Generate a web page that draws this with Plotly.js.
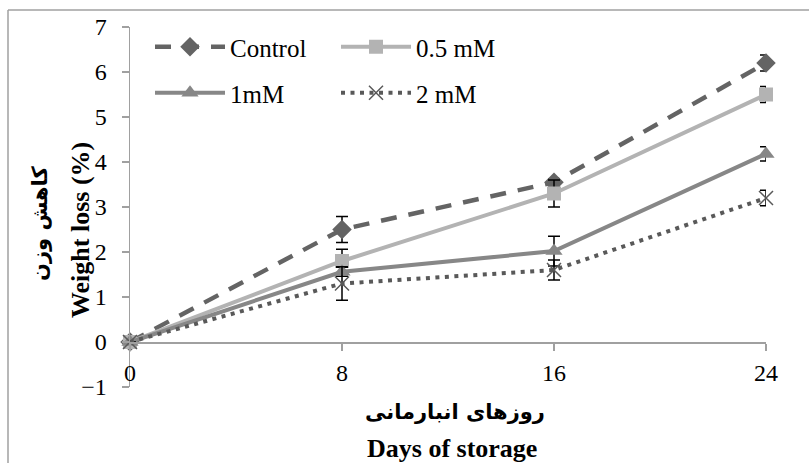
<!DOCTYPE html>
<html>
<head>
<meta charset="utf-8">
<script src="https://cdn.plot.ly/plotly-3.0.1.min.js"></script>
<style>html,body{margin:0;padding:0;background:#fff;}#chart{width:809px;height:463px;}</style>
</head>
<body>
<div id="chart"></div>
<script>
// Data
const days = [0, 8, 16, 24];
const seriesNames = ["Control", "0.5 mM", "1mM", "2 mM"];
const control = [0, 2.5, 3.55, 6.2];
const controlErr = [0, 0.29, 0.08, 0.18];
const mM05 = [0, 1.8, 3.3, 5.5];
const mM05Err = [0, 0.26, 0.3, 0.18];
const mM1 = [0, 1.56, 2.02, 4.18];
const mM1Err = [0, 0.1, 0.33, 0.16];
const mM2 = [0, 1.3, 1.6, 3.2];
const mM2Err = [0, 0.37, 0.22, 0.17];
const xTickVals = [0, 8, 16, 24];
const xTickText = ["0", "8", "16", "24"];

const serif = "'Liberation Serif', 'Times New Roman', serif";
const persian = "'DejaVu Sans', sans-serif";

function err(arr) {
  return {type: "data", array: arr, visible: true, color: "#000", thickness: 1.5, width: 6};
}

const traces = [
  {x: days, y: control, name: seriesNames[0], mode: "lines+markers", legend: "legend",
   line: {color: "#646464", width: 4.5, dash: "16px,12px"},
   marker: {symbol: "diamond", size: 15, color: "#646464"}, error_y: err(controlErr), cliponaxis: false},
  {x: days, y: mM05, name: seriesNames[1], mode: "lines+markers", legend: "legend",
   line: {color: "#b3b3b3", width: 4},
   marker: {symbol: "square", size: 14, color: "#b3b3b3"}, error_y: err(mM05Err), cliponaxis: false},
  {x: days, y: mM1, name: seriesNames[2], mode: "lines+markers", legend: "legend2",
   line: {color: "#878787", width: 4},
   marker: {symbol: "triangle-up", size: 15, color: "#878787"}, error_y: err(mM1Err), cliponaxis: false},
  {x: days, y: mM2, name: seriesNames[3], mode: "lines+markers", legend: "legend2",
   line: {color: "#595959", width: 4, dash: "4px,5.5px"},
   marker: {symbol: "x-thin-open", size: 14, color: "#595959", line: {color: "#595959", width: 1.5}},
   error_y: err(mM2Err), cliponaxis: false}
];

const L = 130, R = 43, T = 27, B = 76, W = 809 - L - R, H = 463 - T - B;
const px = v => (v - L) / W;
const py = v => (463 - B - v) / H;

const legendCommon = {
  orientation: "h", xanchor: "left", yanchor: "middle",
  font: {family: serif, size: 25, color: "#000"},
  bgcolor: "rgba(0,0,0,0)", itemwidth: 70,
  entrywidth: 101, entrywidthmode: "pixels", itemclick: false
};

const ann = (text, x, y, family, size, angle) => ({
  text: text, xref: "paper", yref: "paper", x: px(x), y: py(y),
  xanchor: "center", yanchor: "middle", textangle: angle || 0, showarrow: false,
  font: {family: family, size: size, color: "#000"}
});

const layout = {
  width: 809, height: 463,
  margin: {l: L, r: R, t: T, b: B},
  paper_bgcolor: "#fff", plot_bgcolor: "#fff",
  showlegend: true,
  legend: Object.assign({}, legendCommon, {x: px(150), y: py(47)}),
  legend2: Object.assign({}, legendCommon, {x: px(150), y: py(93)}),
  xaxis: {
    range: [0, 24], tickvals: xTickVals, ticktext: xTickText,
    anchor: "free", position: py(342),
    showline: true, linecolor: "#a0a0a0", linewidth: 1.5,
    ticks: "outside", ticklen: 7, tickcolor: "#a0a0a0", tickwidth: 1.5,
    showgrid: false, zeroline: false, ticklabelstandoff: 2,
    tickfont: {family: serif, size: 24, color: "#000"}
  },
  yaxis: {
    range: [-1, 7], dtick: 1, tick0: 0,
    showline: true, linecolor: "#a0a0a0", linewidth: 1.5,
    ticks: "outside", ticklen: 7, tickcolor: "#a0a0a0", tickwidth: 1.5,
    showgrid: false, zeroline: false, ticklabelstandoff: 10,
    tickfont: {family: serif, size: 24, color: "#000"}
  },
  annotations: [
    ann("<b>Weight loss (%)</b>", 80, 230, serif, 26, -90),
    ann("<b>کاهش وزن</b>", 40, 223, persian, 21, -90),
    ann("<b>روزهای انبارمانی</b>", 455, 412, persian, 21),
    ann("<b>Days of storage</b>", 452, 448, serif, 26)
  ],
  shapes: [
    {type: "line", xref: "paper", yref: "paper", x0: px(8), x1: px(809), y0: py(10), y1: py(10),
     line: {color: "#a0a0a0", width: 1.5}},
    {type: "line", xref: "paper", yref: "paper", x0: px(8), x1: px(8), y0: py(10), y1: py(463),
     line: {color: "#a0a0a0", width: 1.5}}
  ]
};

Plotly.newPlot("chart", traces, layout, {staticPlot: true, displayModeBar: false});
</script>
</body>
</html>
